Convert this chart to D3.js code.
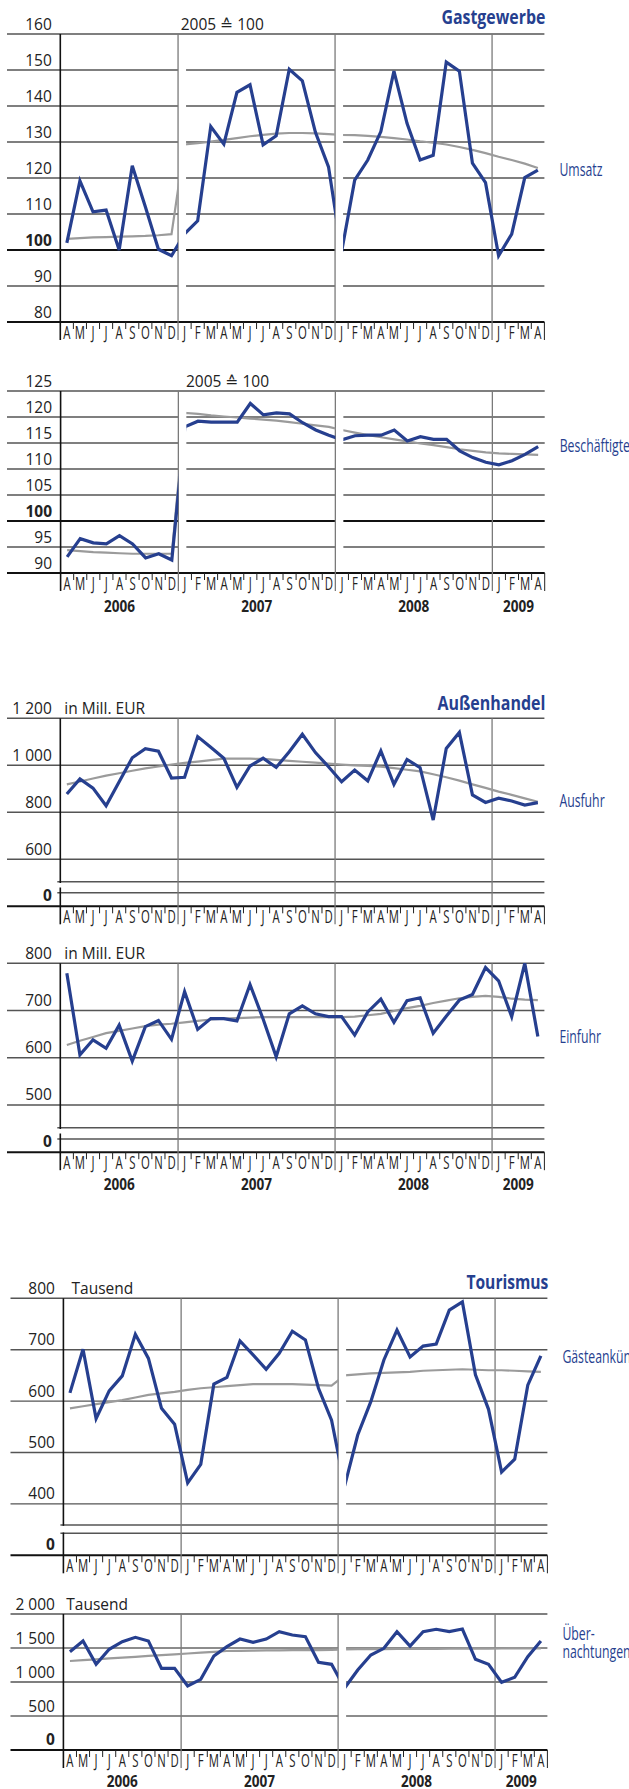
<!DOCTYPE html>
<html>
<head>
<meta charset="utf-8">
<script src="https://cdn.jsdelivr.net/npm/d3@7"></script>
<style>
  body { margin: 0; background: #fff; }
  svg { display: block; font-family: "Open Sans", "DejaVu Sans", sans-serif; }
</style>
</head>
<body>
<div id="chart"></div>
<script>
// months April 2006 .. April 2009
const monthLabels = ["A","M","J","J","A","S","O","N","D",
  "J","F","M","A","M","J","J","A","S","O","N","D",
  "J","F","M","A","M","J","J","A","S","O","N","D",
  "J","F","M","A"];
const yearLabels = ["2006", "2007", "2008", "2009"];
const yearFirstMonth = [0, 9, 21, 33];

// Gastgewerbe, 2005 = 100
const umsatz = [102.0, 119.2, 110.6, 111.1, 100.0, 123.4, 112.0, 100.2, 98.4,
  104.5, 108.1, 134.3, 129.4, 143.8, 145.9, 129.2, 131.7, 150.2, 147.0, 132.7, 123.1,
  99.5, 119.4, 125.0, 132.9, 149.7, 135.2, 125.0, 126.3, 152.2, 149.7, 124.1, 118.7,
  98.4, 104.4, 120.1, 122.2];
const umsatzTrend = [103.1, 103.3, 103.5, 103.6, 103.7, 103.8, 103.9, 104.1, 104.4,
  129.3, 129.7, 130.1, 130.6, 131.1, 131.6, 132.0, 132.3, 132.5, 132.5, 132.4, 132.2,
  132.0, 131.9, 131.7, 131.4, 131.1, 130.7, 130.2, 129.8, 129.3, 128.6, 127.8, 126.9,
  125.9, 125.0, 124.0, 122.8];
const beschaeftigte = [93.1, 96.6, 95.8, 95.6, 97.2, 95.6, 92.9, 93.7, 92.5,
  118.1, 119.2, 119.0, 119.0, 119.0, 122.6, 120.4, 120.8, 120.6, 118.9, 117.5, 116.5,
  115.6, 116.4, 116.5, 116.5, 117.5, 115.4, 116.2, 115.7, 115.7, 113.5, 112.2, 111.3,
  110.8, 111.6, 112.8, 114.3];
const beschaeftigteTrend = [94.4, 94.2, 94.0, 93.9, 93.8, 93.7, 93.7, 93.7, 93.7,
  120.8, 120.6, 120.3, 120.1, 119.9, 119.7, 119.5, 119.3, 119.0, 118.7, 118.4, 118.1,
  117.5, 117.0, 116.5, 116.1, 115.7, 115.3, 114.9, 114.6, 114.2, 113.8, 113.5, 113.2,
  113.0, 112.9, 112.8, 112.7];

// Außenhandel, Mill. EUR
const ausfuhr = [878, 942, 903, 828, 930, 1032, 1071, 1060, 946,
  949, 1122, 1077, 1030, 906, 997, 1030, 991, 1058, 1132, 1054, 994,
  930, 980, 934, 1061, 919, 1025, 990, 767, 1072, 1140, 874, 842,
  860, 848, 831, 841];
const ausfuhrTrend = [919, 931, 944, 956, 966, 977, 987, 995, 1003,
  1010, 1016, 1022, 1028, 1029, 1028, 1027, 1023, 1019, 1015, 1011, 1007,
  1003, 1000, 997, 994, 988, 981, 974, 962, 949, 935, 919, 904,
  888, 874, 859, 845];
const einfuhr = [779, 606, 638, 620, 669, 593, 666, 679, 639,
  740, 660, 683, 683, 678, 755, 682, 602, 693, 710, 693, 687,
  687, 648, 697, 724, 675, 721, 727, 652, 688, 722, 734, 791,
  763, 687, 800, 645];
const einfuhrTrend = [627, 636, 644, 652, 657, 662, 667, 670, 672,
  675, 678, 681, 683, 684, 685, 686, 686, 686, 686, 686, 686,
  686, 687, 690, 693, 699, 705, 710, 716, 721, 726, 729, 731,
  729, 725, 723, 722];

// Tourismus, Tausend
const gaeste = [616, 701, 566, 620, 649, 730, 683, 586, 555,
  441, 477, 633, 646, 717, 690, 662, 693, 736, 719, 625, 563,
  435, 534, 599, 680, 738, 686, 707, 711, 777, 793, 651, 584,
  462, 487, 631, 688];
const gaesteTrend = [586, 590, 594, 598, 602, 607, 612, 615, 618,
  622, 625, 627, 629, 631, 633, 633, 633, 633, 632, 631, 630,
  650, 652, 654, 655, 656, 657, 659, 660, 661, 662, 661, 660,
  660, 659, 658, 657];
const uebernachtungen = [1446, 1603, 1260, 1481, 1593, 1657, 1603, 1201, 1201,
  941, 1039, 1382, 1520, 1632, 1583, 1632, 1740, 1691, 1667, 1289, 1260,
  912, 1176, 1397, 1495, 1740, 1529, 1740, 1775, 1740, 1779, 1334, 1260,
  995, 1069, 1373, 1603];
const uebernachtungenTrend = [1309, 1321, 1333, 1346, 1358, 1370, 1383, 1395, 1407,
  1419, 1431, 1444, 1456, 1459, 1461, 1464, 1466, 1468, 1469, 1470, 1471,
  1481, 1482, 1483, 1484, 1485, 1486, 1487, 1488, 1489, 1490, 1491, 1492,
  1493, 1494, 1494, 1495];

const width = 629, height = 1789;
const blue = "#263f8f";
const trendGrey = "#9b9b9b";
const textColor = "#222";
const fmt = d3.formatLocale({decimal: ",", thousands: " ", grouping: [3], currency: ["", " €"]}).format(",");

// layout of the six panels
const panels = [
  {series: umsatz, trend: umsatzTrend, x0: 60.3, x1: 544.4, left: 7, top: 34, bottom: 322,
   domain: [80, 160], ticks: d3.range(80, 161, 10), bold: 100, gaps: [9, 21],
   unit: "2005 \u2259 100", unitX: 180.7, title: "Gastgewerbe", titleLen: 104, titleY: 23.5,
   label: ["Umsatz"], labelY: 176, years: false},
  {series: beschaeftigte, trend: beschaeftigteTrend, x0: 60.6, x1: 544.7, left: 7, top: 391, bottom: 573,
   domain: [90, 125], ticks: d3.range(90, 126, 5), bold: 100, gaps: [9, 21],
   unit: "2005 \u2259 100", unitX: 186, label: ["Beschäftigte"], labelY: 452, years: true, yearY: 38.5},
  {series: ausfuhr, trend: ausfuhrTrend, x0: 60.3, x1: 544.4, left: 7, top: 718.3, bottom: 906.3,
   domain: [400, 1200], ticks: [600, 800, 1000, 1200], breakLines: [881.7, 892.7], axisGap: [883, 887.5],
   zero: true, gaps: [], unit: "in Mill. EUR", unitX: 64.3, title: "Außenhandel", titleLen: 108, titleY: 709.5,
   label: ["Ausfuhr"], labelY: 806.5, years: false},
  {series: einfuhr, trend: einfuhrTrend, x0: 60.3, x1: 544.4, left: 7, top: 963.3, bottom: 1152.2,
   domain: [400, 800], ticks: [500, 600, 700, 800], breakLines: [1127.7, 1139], axisGap: [1129, 1133.5],
   zero: true, gaps: [], unit: "in Mill. EUR", unitX: 64.3, label: ["Einfuhr"], labelY: 1042.7, years: true, yearY: 38},
  {series: gaeste, trend: gaesteTrend, x0: 63.4, x1: 547.4, left: 10.5, top: 1298.3, bottom: 1555.3,
   domain: [300, 800], ticks: [400, 500, 600, 700, 800], breakLines: [1525, 1533.3], axisGap: [1525.8, 1532.5],
   zero: true, gaps: [21], unit: "Tausend", unitX: 71.5, title: "Tourismus", titleLen: 82, titleY: 1288.5,
   label: ["Gästeankünfte"], labelY: 1363.3, years: false},
  {series: uebernachtungen, trend: uebernachtungenTrend, x0: 63.4, x1: 547.4, left: 10.5, top: 1614, bottom: 1750,
   domain: [0, 2000], ticks: [0, 500, 1000, 1500, 2000], zero: true, gaps: [21],
   lightLines: [500, 1500], unit: "Tausend", unitX: 66.3,
   label: ["Über-", "nachtungen"], labelY: 1640, years: true, yearY: 37}
];

const svg = d3.select("#chart").append("svg")
  .attr("width", width)
  .attr("height", height)
  .style("background", "#fff");

panels.forEach(drawPanel);

// squeeze a text horizontally (the original uses a condensed face)
function condense(sel, factor) {
  sel.each(function () {
    const len = this.getComputedTextLength();
    d3.select(this).attr("textLength", len * factor).attr("lengthAdjust", "spacingAndGlyphs");
  });
}

function drawPanel(p, k) {
  const x = d3.scaleBand().domain(d3.range(monthLabels.length)).range([p.x0, p.x1]);
  const y = d3.scaleLinear().domain(p.domain).range([p.bottom, p.top]);
  const bw = x.bandwidth();
  const g = svg.append("g");
  const gapW = 8;
  const ext = 18; // axis / separator extension into the month row

  // horizontal pieces between the year gaps
  const segs = [];
  let start = p.left;
  p.gaps.forEach(i => { segs.push([start, x(i)]); start = x(i) + gapW; });
  segs.push([start, p.x1]);

  // grid lines
  p.ticks.forEach(t => {
    const isEdge = t === p.domain[0] || t === p.domain[1];
    const isBold = t === p.bold || t === p.domain[0];
    const light = p.lightLines && p.lightLines.includes(t);
    const pieces = isEdge ? [[p.left, p.x1]] : segs;
    pieces.forEach(s => {
      g.append("line")
        .attr("x1", s[0]).attr("x2", s[1])
        .attr("y1", y(t)).attr("y2", y(t))
        .attr("stroke", isBold ? "#111" : (light ? "#8c8c8c" : "#555"))
        .attr("stroke-width", isBold ? 2 : (light ? 2.2 : 1.4));
    });
  });
  if (p.breakLines) {
    p.breakLines.forEach(by => {
      g.append("line")
        .attr("x1", p.x0 - 3).attr("x2", p.x1)
        .attr("y1", by).attr("y2", by)
        .attr("stroke", "#555").attr("stroke-width", 1.4);
    });
    // bottom line (stands for 0)
    g.append("line")
      .attr("x1", p.left).attr("x2", p.x1)
      .attr("y1", p.bottom).attr("y2", p.bottom)
      .attr("stroke", "#111").attr("stroke-width", 2);
  }

  // y labels
  p.ticks.forEach(t => {
    if (p.zero && t === p.domain[0]) return;
    g.append("text")
      .attr("x", p.x0 - 8.5).attr("y", y(t) - 4.5)
      .attr("text-anchor", "end")
      .attr("font-size", 15.5)
      .attr("font-weight", t === p.bold ? "bold" : null)
      .attr("fill", textColor)
      .text(fmt(t));
  });
  if (p.zero) {
    g.append("text")
      .attr("x", p.x0 - 8.5).attr("y", p.bottom - 5.5)
      .attr("text-anchor", "end")
      .attr("font-size", 15.5)
      .attr("font-weight", "bold")
      .attr("fill", textColor)
      .text("0");
  }

  // unit and title
  g.append("text")
    .attr("x", p.unitX).attr("y", p.top - 4.5)
    .attr("font-size", 15.5)
    .attr("fill", textColor)
    .text(p.unit);
  if (p.title) {
    g.append("text")
      .attr("x", p.x1 + 1 - p.titleLen).attr("y", p.titleY)
      .attr("font-size", 20)
      .attr("font-weight", "bold")
      .attr("fill", blue)
      .attr("textLength", p.titleLen)
      .attr("lengthAdjust", "spacingAndGlyphs")
      .text(p.title);
  }

  // year separators
  yearFirstMonth.slice(1).forEach(i => {
    g.append("line")
      .attr("x1", x(i)).attr("x2", x(i))
      .attr("y1", p.top).attr("y2", p.bottom + ext)
      .attr("stroke", "#7a7a7a").attr("stroke-width", 1.3);
  });

  // the lines, clipped at the year gaps
  const clipId = "clip" + k;
  svg.append("defs").append("clipPath").attr("id", clipId)
    .selectAll("rect").data(segs).join("rect")
      .attr("x", d => d[0]).attr("width", d => d[1] - d[0])
      .attr("y", p.top - 20).attr("height", p.bottom - p.top + 40);

  const line = d3.line()
    .x((d, i) => x(i) + bw / 2)
    .y(d => y(d));

  g.append("path")
    .datum(p.trend)
    .attr("clip-path", `url(#${clipId})`)
    .attr("fill", "none")
    .attr("stroke", trendGrey)
    .attr("stroke-width", 2.2)
    .attr("d", line);
  g.append("path")
    .datum(p.series)
    .attr("clip-path", `url(#${clipId})`)
    .attr("fill", "none")
    .attr("stroke", blue)
    .attr("stroke-width", 3.2)
    .attr("d", line);

  // y axis, broken where the scale jumps to 0
  const axisParts = p.axisGap ? [[p.top, p.axisGap[0]], [p.axisGap[1], p.bottom + ext]] : [[p.top, p.bottom + ext]];
  axisParts.forEach(a => {
    g.append("line")
      .attr("x1", p.x0).attr("x2", p.x0)
      .attr("y1", a[0]).attr("y2", a[1])
      .attr("stroke", "#111").attr("stroke-width", 1.6);
  });

  // month ticks and letters
  d3.range(1, monthLabels.length).forEach(i => {
    if (yearFirstMonth.includes(i)) return;
    g.append("line")
      .attr("x1", x(i)).attr("x2", x(i))
      .attr("y1", p.bottom).attr("y2", p.bottom + 7)
      .attr("stroke", "#222").attr("stroke-width", 1);
  });
  g.append("line")
    .attr("x1", p.x1).attr("x2", p.x1)
    .attr("y1", p.bottom).attr("y2", p.bottom + ext)
    .attr("stroke", "#222").attr("stroke-width", 1);

  const months = g.selectAll("text.month")
    .data(monthLabels)
    .join("text")
      .attr("class", "month")
      .attr("x", (m, i) => x(i) + bw / 2)
      .attr("y", p.bottom + 16.5)
      .attr("text-anchor", "middle")
      .attr("font-size", 18)
      .attr("fill", textColor)
      .text(m => m);
  condense(months, 0.63);

  if (p.years) {
    yearLabels.forEach((yl, j) => {
      const a = x(yearFirstMonth[j]);
      const b = j + 1 < yearFirstMonth.length ? x(yearFirstMonth[j + 1]) : p.x1;
      g.append("text")
        .attr("x", (a + b) / 2 - 15.5).attr("y", p.bottom + p.yearY)
        .attr("font-size", 15.5)
        .attr("font-weight", "bold")
        .attr("fill", textColor)
        .attr("textLength", 31)
        .attr("lengthAdjust", "spacingAndGlyphs")
        .text(yl);
    });
  }

  // series label on the right (one text, one line per entry)
  const lab = g.append("text")
    .attr("y", p.labelY)
    .attr("font-size", 17.5)
    .attr("fill", blue);
  p.label.forEach((t, j) => {
    lab.append("tspan")
      .attr("x", p.x1 + 15)
      .attr("dy", j === 0 ? 0 : 18.3)
      .text(t);
  });
  lab.selectAll("tspan").each(function () {
    const len = this.getComputedTextLength();
    d3.select(this).attr("textLength", len * 0.7).attr("lengthAdjust", "spacingAndGlyphs");
  });
}
</script>
</body>
</html>
